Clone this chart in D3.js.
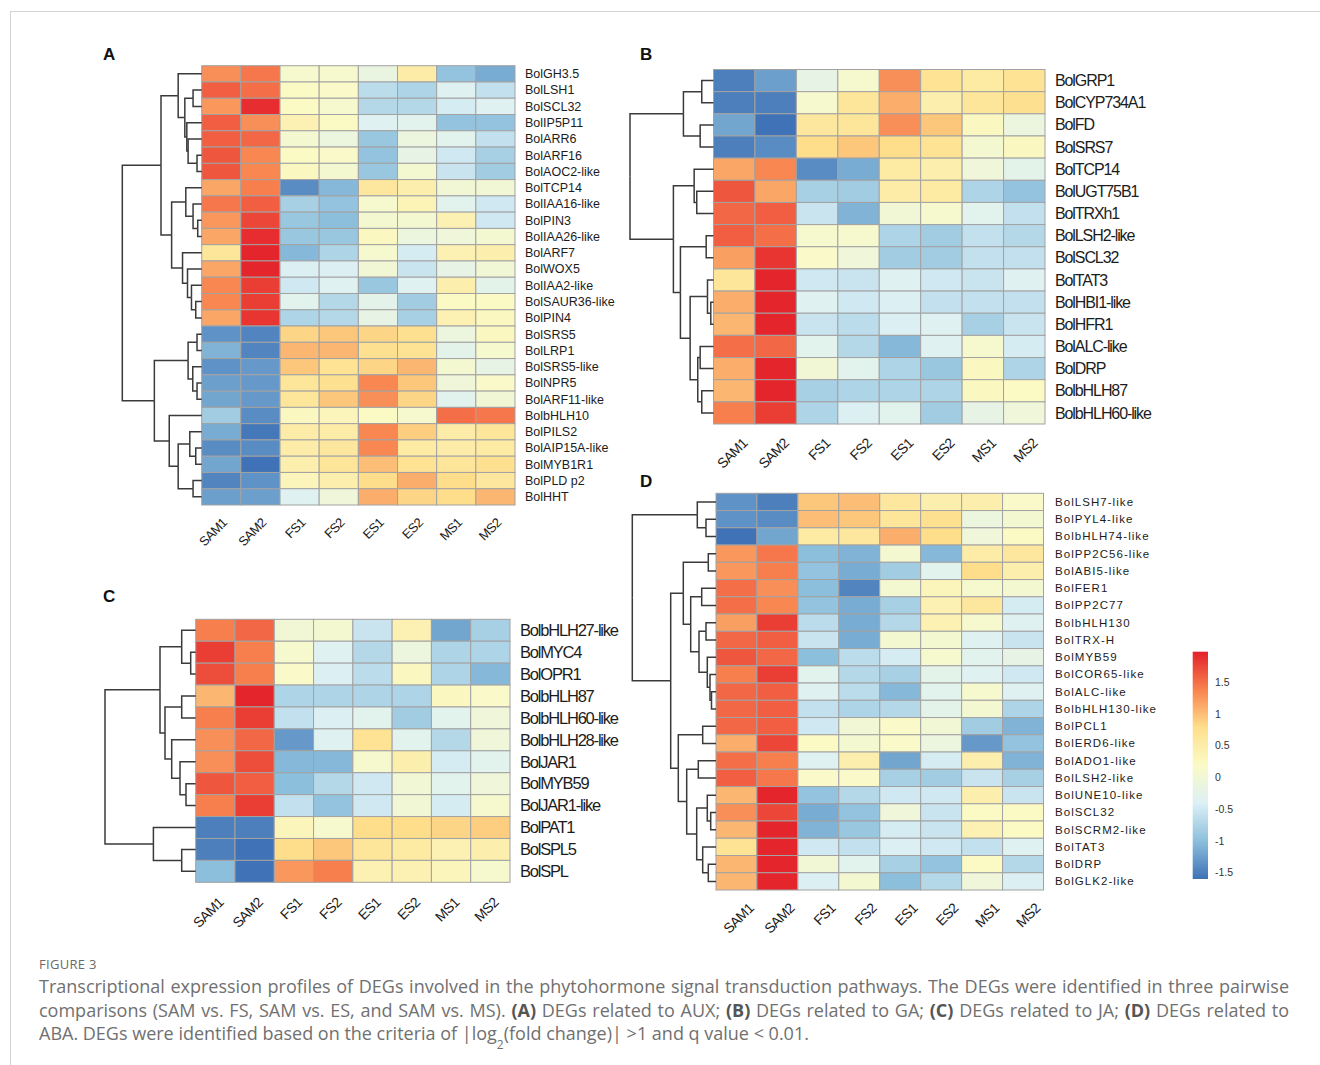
<!DOCTYPE html>
<html>
<head>
<meta charset="utf-8">
<script src="https://cdn.jsdelivr.net/npm/d3@7"></script>
<style>
  body { margin: 0; background: #fff; }
  svg { display: block; }
</style>
</head>
<body>
<svg id="fig" width="1320" height="1065"></svg>
<script>
// sample columns, shared by all four heatmaps
const samples = ["SAM1", "SAM2", "FS1", "FS2", "ES1", "ES2", "MS1", "MS2"];

// ---- A: AUX ----
const genesA = ["BolGH3.5", "BolLSH1", "BolSCL32", "BolIP5P11", "BolARR6", "BolARF16", "BolAOC2-like",
  "BolTCP14", "BolIAA16-like", "BolPIN3", "BolIAA26-like", "BolARF7", "BolWOX5", "BolIAA2-like",
  "BolSAUR36-like", "BolPIN4", "BolSRS5", "BolLRP1", "BolSRS5-like", "BolNPR5", "BolARF11-like",
  "BolbHLH10", "BolPILS2", "BolAIP15A-like", "BolMYB1R1", "BolPLD p2", "BolHHT"];
const valuesA = [
  [1.3, 1.45, 0.1, 0.1, -0.15, 0.5, -0.95, -1.15],
  [1.6, 1.5, 0.2, 0.15, -0.65, -0.75, -0.35, -0.6],
  [1.25, 1.9, 0.2, 0.1, -0.7, -0.7, -0.45, -0.35],
  [1.6, 1.3, 0.4, 0.2, -0.35, -0.3, -0.95, -0.95],
  [1.6, 1.55, 0.05, -0.1, -0.9, -0.1, -0.3, -0.6],
  [1.65, 1.35, 0.2, 0.15, -0.95, -0.2, -0.5, -0.8],
  [1.65, 1.35, 0.25, 0.05, -0.9, 0.05, -0.55, -0.85],
  [1.15, 1.4, -1.4, -1.05, 0.6, 0.45, 0.0, 0.0],
  [1.45, 1.6, -0.8, -0.95, 0.1, 0.35, -0.3, -0.5],
  [1.25, 1.75, -0.9, -1.0, 0.05, 0.05, 0.4, -0.5],
  [1.15, 1.9, -0.9, -0.9, 0.25, -0.1, -0.05, 0.05],
  [0.65, 1.95, -1.05, -0.75, 0.1, -0.45, 0.4, 0.45],
  [1.15, 1.95, -0.4, -0.4, 0.0, -0.55, -0.2, 0.0],
  [1.35, 1.8, -0.5, -0.35, -0.9, -0.35, 0.45, -0.25],
  [1.35, 1.8, -0.3, -0.7, -0.25, -0.85, 0.2, 0.2],
  [1.15, 1.85, -0.75, -0.7, -0.2, -0.8, 0.4, 0.25],
  [-1.35, -1.45, 0.85, 0.95, 0.85, 0.75, -0.1, 0.25],
  [-1.1, -1.45, 1.05, 1.05, 0.75, 0.7, -0.25, 0.1],
  [-1.35, -1.3, 0.95, 0.7, 0.85, 1.05, 0.05, -0.2],
  [-1.25, -1.3, 0.65, 0.75, 1.35, 0.95, -0.05, 0.15],
  [-1.2, -1.3, 0.65, 0.95, 1.3, 0.85, -0.3, 0.0],
  [-0.85, -1.4, 0.25, 0.3, 0.2, 0.1, 1.5, 1.45],
  [-1.15, -1.55, 0.5, 0.5, 1.35, 0.9, 0.5, 0.65],
  [-1.4, -1.4, 0.5, 0.6, 1.35, 0.55, 0.5, 0.55],
  [-1.2, -1.6, 0.45, 0.65, 1.0, 0.7, 0.65, 0.75],
  [-1.45, -1.35, 0.3, 0.45, 0.8, 1.1, 0.8, 0.6],
  [-1.25, -1.25, -0.35, -0.05, 1.1, 0.85, 0.8, 1.05]
];
// row dendrogram: [merge height, left, right], leaves are row indices
const treeA = [80,
  [41,
    [23.7, 0, [17, [8.7, 1, 2], [15, 3, [13.7, 4, [4.7, 5, 6]]]]],
    [30.3, [16, 7, [8.7, 8, [4, 9, 10]]], [19.3, 11, [14.3, 12, [10.3, 13, [6, 14, 15]]]]]],
  [47.7,
    [13.7, [4.7, 16, 17], [9, 18, [4.7, 19, 20]]],
    [32.7, 21, [23.7, [12, 22, [6, 23, 24]], [8.7, 25, 26]]]]];

// ---- B: GA ----
const genesB = ["BolGRP1", "BolCYP734A1", "BolFD", "BolSRS7", "BolTCP14", "BolUGT75B1", "BolTRXh1",
  "BolLSH2-like", "BolSCL32", "BolTAT3", "BolHBI1-like", "BolHFR1", "BolALC-like", "BolDRP",
  "BolbHLH87", "BolbHLH60-like"];
const valuesB = [
  [-1.5, -1.25, -0.2, 0.1, 1.3, 0.7, 0.55, 0.7],
  [-1.5, -1.5, 0.1, 0.65, 1.1, 0.45, 0.65, 0.75],
  [-1.2, -1.6, 0.6, 0.65, 1.3, 0.95, 0.25, -0.1],
  [-1.5, -1.4, 0.8, 0.95, 0.8, 0.7, 0.05, 0.25],
  [1.15, 1.35, -1.4, -1.15, 0.55, 0.45, -0.05, -0.25],
  [1.65, 1.15, -0.8, -0.85, 0.5, 0.55, -0.75, -0.95],
  [1.55, 1.6, -0.55, -1.1, 0.0, 0.1, -0.3, -0.6],
  [1.6, 1.5, 0.1, 0.1, -0.75, -0.85, -0.6, -0.7],
  [1.2, 1.85, 0.15, -0.05, -0.85, -0.85, -0.6, -0.6],
  [0.65, 1.95, -0.5, -0.55, -0.35, -0.5, -0.55, -0.35],
  [1.1, 1.95, -0.35, -0.5, -0.4, -0.6, -0.6, -0.6],
  [1.05, 1.95, -0.55, -0.65, -0.4, -0.35, -0.8, -0.55],
  [1.5, 1.55, -0.3, -0.7, -1.05, -0.35, 0.1, -0.45],
  [1.1, 1.95, 0.0, -0.3, -0.75, -0.9, 0.25, -0.75],
  [1.05, 1.95, -0.8, -0.75, -0.75, -0.75, 0.25, 0.2],
  [1.4, 1.8, -0.75, -0.4, -0.3, -0.85, -0.2, -0.05]
];
const treeB = [83.3,
  [30, [11.7, 0, 1], [13.3, 2, 3]],
  [40,
    [19.3, 4, [16.7, 5, 6]],
    [33, [7.3, 7, 8], [23.3, [6, 9, [2.7, 10, 11]], [15.7, [13.3, 12, 13], [11.7, 14, 15]]]]]];

// ---- C: JA ----
const genesC = ["BolbHLH27-like", "BolMYC4", "BolOPR1", "BolbHLH87", "BolbHLH60-like", "BolbHLH28-like",
  "BolJAR1", "BolMYB59", "BolJAR1-like", "BolPAT1", "BolSPL5", "BolSPL"];
const valuesC = [
  [1.4, 1.55, 0.0, 0.05, -0.55, 0.4, -1.2, -0.8],
  [1.8, 1.4, 0.1, -0.35, -0.7, -0.1, -0.75, -0.75],
  [1.7, 1.4, 0.15, -0.4, -0.65, 0.25, -0.75, -1.05],
  [1.05, 1.95, -0.75, -0.75, -0.75, -0.75, 0.25, 0.15],
  [1.4, 1.8, -0.6, -0.4, -0.3, -0.85, -0.3, -0.05],
  [1.3, 1.55, -1.3, -0.35, 0.7, -0.3, -0.7, -0.05],
  [1.3, 1.7, -1.05, -1.05, 0.1, 0.45, -0.45, -0.3],
  [1.65, 1.6, -1.0, -0.7, -0.5, 0.0, -0.3, -0.05],
  [1.4, 1.8, -0.6, -0.95, -0.5, 0.0, -0.45, 0.1],
  [-1.5, -1.5, 0.3, 0.1, 0.8, 0.8, 0.85, 0.9],
  [-1.5, -1.6, 0.8, 0.95, 0.65, 0.55, 0.4, 0.45],
  [-1.0, -1.6, 1.25, 1.4, 0.4, 0.4, 0.3, 0.1]
];
const treeC = [90.7,
  [35.7, [14, 0, [5, 1, 2]], [30.7, [14, 3, 4], [24, 5, [15.7, 6, [9.7, 7, 8]]]]],
  [42.3, 9, [14, 10, 11]]];

// ---- D: ABA ----
const genesD = ["BolLSH7-like", "BolPYL4-like", "BolbHLH74-like", "BolPP2C56-like", "BolABI5-like",
  "BolFER1", "BolPP2C77", "BolbHLH130", "BolTRX-H", "BolMYB59", "BolCOR65-like", "BolALC-like",
  "BolbHLH130-like", "BolPCL1", "BolERD6-like", "BolADO1-like", "BolLSH2-like", "BolUNE10-like",
  "BolSCL32", "BolSCRM2-like", "BolTAT3", "BolDRP", "BolGLK2-like"];
const valuesD = [
  [-1.35, -1.5, 0.95, 1.0, 0.6, 0.45, 0.45, 0.15],
  [-1.35, -1.4, 1.0, 0.95, 0.65, 0.75, -0.1, 0.05],
  [-1.6, -1.2, 0.55, 0.6, 1.1, 0.8, -0.05, 0.2],
  [1.25, 1.45, -1.0, -1.1, 0.05, -1.05, 0.5, 0.6],
  [1.25, 1.4, -0.95, -1.15, -0.85, -0.3, 0.8, 0.45],
  [1.5, 1.3, -1.0, -1.45, 0.05, 0.3, 0.1, 0.05],
  [1.5, 1.35, -0.95, -1.15, -0.8, 0.4, 0.6, -0.45],
  [1.2, 1.8, -0.65, -1.15, -0.7, 0.4, 0.1, -0.35],
  [1.55, 1.6, -0.55, -1.15, 0.05, 0.05, -0.35, -0.55],
  [1.65, 1.55, -1.0, -0.65, -0.45, 0.1, -0.3, -0.2],
  [1.4, 1.8, -0.3, -0.7, -0.8, -0.25, -0.35, -0.5],
  [1.55, 1.6, -0.35, -0.65, -1.05, -0.3, 0.1, -0.35],
  [1.55, 1.6, -0.6, -0.75, -0.7, -0.25, 0.05, -0.75],
  [1.55, 1.6, -0.5, 0.0, 0.15, 0.0, -0.85, -1.1],
  [1.1, 1.75, 0.2, 0.05, 0.15, -0.1, -1.3, -0.95],
  [1.5, 1.4, -0.35, 0.45, -1.2, -0.45, 0.45, -1.1],
  [1.6, 1.45, 0.15, 0.15, -0.8, -0.85, -0.55, -0.8],
  [1.05, 1.95, -0.95, -0.7, -0.5, -0.5, 0.45, -0.55],
  [1.3, 1.75, -1.15, -0.95, -0.05, -0.55, 0.2, 0.2],
  [1.05, 1.95, -1.1, -0.9, -0.45, -0.55, 0.4, 0.2],
  [0.7, 1.95, -0.5, -0.6, -0.4, -0.5, -0.6, -0.35],
  [1.05, 1.95, 0.0, -0.3, -0.8, -0.95, 0.2, -0.7],
  [1.05, 1.95, -0.4, 0.05, -1.0, -0.7, -0.05, -0.4]
];
const treeD = [83.7,
  [18.7, 0, [10, 1, 2]],
  [45.3,
    [32.7, [7.7, 3, 4], [25.3, [14.3, 5, 6], [17, [10, 7, 8], [8.7, 9, [6, 10, [4.5, 11, 12]]]]]],
    [37.7, [13.3, 13, 14], [29.3, [17.7, 15, 16], [19.3, [8.7, 17, [5.3, 18, 19]], [13.3, 20, [7.7, 21, 22]]]]]]];

// colour key
const valueRange = [-1.6, 1.98];
const legendTicks = [-1.5, -1, -0.5, 0, 0.5, 1, 1.5];
const palette = ["#3f72b6", "#8cbfdc", "#dcf0f5", "#fbfac6", "#fedf8c", "#f8824f", "#e4202a"];

const svg = d3.select("#fig");
const FONT = "'Liberation Sans', Arial, sans-serif";

const color = d3.scaleLinear()
  .domain(d3.quantize(d3.interpolate(valueRange[0], valueRange[1]), palette.length))
  .range(palette)
  .clamp(true);

// page frame lines
svg.append("line").attr("x1", 10).attr("x2", 1320).attr("y1", 11.5).attr("y2", 11.5)
  .attr("stroke", "#d4d4d4").attr("stroke-width", 1);
svg.append("line").attr("x1", 10.5).attr("x2", 10.5).attr("y1", 11).attr("y2", 1065)
  .attr("stroke", "#d4d4d4").attr("stroke-width", 1);

function heatmap(o) {
  const g = svg.append("g");
  const x = d3.scaleBand().domain(samples).range([o.left, o.right]);
  const y = d3.scaleBand().domain(o.genes).range([o.top, o.bottom]);

  const cells = [];
  o.values.forEach((row, i) => row.forEach((v, j) => cells.push({ gene: o.genes[i], s: samples[j], v: v })));

  g.selectAll("rect.cell").data(cells).join("rect")
    .attr("class", "cell")
    .attr("x", d => x(d.s))
    .attr("y", d => y(d.gene))
    .attr("width", x.bandwidth())
    .attr("height", y.bandwidth())
    .attr("fill", d => color(d.v))
    .attr("stroke", "#a2a2a2")
    .attr("stroke-width", 1);

  g.selectAll("text.row").data(o.genes).join("text")
    .attr("class", "row")
    .attr("x", o.labelX)
    .attr("y", d => y(d) + y.bandwidth() / 2)
    .attr("dy", "0.35em")
    .attr("font-family", FONT)
    .attr("font-size", o.labelSize)
    .attr("letter-spacing", o.labelSpacing)
    .attr("fill", "#1c1c1c")
    .text(d => d);

  g.selectAll("text.col").data(samples).join("text")
    .attr("class", "col")
    .attr("transform", d => `translate(${x(d) + x.bandwidth() / 2 + o.colDx},${o.bottom + o.colGap}) rotate(-45)`)
    .attr("text-anchor", "end")
    .attr("dy", "0.71em")
    .attr("font-family", FONT)
    .attr("font-size", o.colSize)
    .attr("letter-spacing", o.colSpacing)
    .attr("fill", "#1c1c1c")
    .text(d => d);

  // dendrogram
  const root = d3.hierarchy(o.tree, d => Array.isArray(d) ? d.slice(1) : null);
  const h = d3.scaleLinear().domain([0, o.tree[0]]).range([o.left, o.rootX]);
  root.eachAfter(n => {
    if (n.children) {
      n.py = d3.mean(n.children, c => c.py);
      n.px = h(n.data[0]);
    } else {
      n.py = y(o.genes[n.data]) + y.bandwidth() / 2;
      n.px = o.left;
    }
  });
  g.selectAll("path.link").data(root.links()).join("path")
    .attr("class", "link")
    .attr("d", l => `M${l.target.px},${l.target.py}H${l.source.px}V${l.source.py}`)
    .attr("fill", "none")
    .attr("stroke", "#3a3a3a")
    .attr("stroke-width", 1.5);

  svg.append("text")
    .attr("x", o.letterX).attr("y", o.letterY)
    .attr("font-family", FONT).attr("font-weight", "bold").attr("font-size", 17)
    .attr("fill", "#111")
    .text(o.letter);
}

heatmap({ letter: "A", letterX: 103, letterY: 60, genes: genesA, values: valuesA, tree: treeA,
  left: 201.7, right: 515, top: 65.7, bottom: 505, rootX: 122.3,
  labelX: 525, labelSize: 12.5, labelSpacing: 0, colSize: 13, colSpacing: -0.6, colDx: 0, colGap: 12 });

heatmap({ letter: "B", letterX: 640, letterY: 60, genes: genesB, values: valuesB, tree: treeB,
  left: 713.5, right: 1045, top: 69.5, bottom: 424, rootX: 630,
  labelX: 1055, labelSize: 16, labelSpacing: -1.1, colSize: 14, colSpacing: -0.6, colDx: 7, colGap: 13 });

heatmap({ letter: "C", letterX: 103, letterY: 602, genes: genesC, values: valuesC, tree: treeC,
  left: 195.7, right: 510, top: 619.3, bottom: 882.3, rootX: 105,
  labelX: 520, labelSize: 16.5, labelSpacing: -1.2, colSize: 14, colSpacing: -0.6, colDx: 2, colGap: 14 });

heatmap({ letter: "D", letterX: 640, letterY: 487, genes: genesD, values: valuesD, tree: treeD,
  left: 716, right: 1043.5, top: 493.3, bottom: 890, rootX: 632.3,
  labelX: 1055, labelSize: 11.5, labelSpacing: 1.05, colSize: 14, colSpacing: -0.6, colDx: 11, colGap: 12 });

// colour key (drawn next to D)
const keyY = d3.scaleLinear().domain(valueRange).range([879, 651.7]);
const grad = svg.append("defs").append("linearGradient")
  .attr("id", "keygrad").attr("x1", 0).attr("x2", 0).attr("y1", 1).attr("y2", 0);
grad.selectAll("stop").data(color.domain()).join("stop")
  .attr("offset", d => (d - valueRange[0]) / (valueRange[1] - valueRange[0]))
  .attr("stop-color", d => color(d));
svg.append("rect")
  .attr("x", 1192.7).attr("y", keyY(valueRange[1]))
  .attr("width", 15.3).attr("height", keyY(valueRange[0]) - keyY(valueRange[1]))
  .attr("fill", "url(#keygrad)");
svg.selectAll("text.key").data(legendTicks).join("text")
  .attr("class", "key")
  .attr("x", 1215)
  .attr("y", d => keyY(d))
  .attr("dy", "0.35em")
  .attr("font-family", FONT)
  .attr("font-size", 10.5)
  .attr("fill", "#333")
  .text(d => String(d));

// caption
const capFont = "'Open Sans', 'Noto Sans', sans-serif";
svg.append("text")
  .attr("x", 39).attr("y", 969)
  .attr("font-family", capFont).attr("font-size", 13).attr("letter-spacing", 0.3)
  .attr("fill", "#6a6a6a")
  .text("FIGURE 3");

const capLines = [
  [["Transcriptional expression profiles of DEGs involved in the phytohormone signal transduction pathways. The DEGs were identified in three pairwise", false]],
  [["comparisons (SAM vs. FS, SAM vs. ES, and SAM vs. MS). ", false], ["(A)", true], [" DEGs related to AUX; ", false],
   ["(B)", true], [" DEGs related to GA; ", false], ["(C)", true], [" DEGs related to JA; ", false], ["(D)", true], [" DEGs related to", false]],
  [["ABA. DEGs were identified based on the criteria of |log", false], ["2", "sub"], ["(fold change)| >1 and q value < 0.01.", false]]
];
capLines.forEach((parts, i) => {
  const t = svg.append("text")
    .attr("x", 39).attr("y", 993 + i * 23.5)
    .attr("font-family", capFont).attr("font-size", 18)
    .attr("fill", "#707070");
  parts.forEach(p => {
    const s = t.append("tspan").text(p[0]);
    if (p[1] === true) s.attr("font-weight", "bold").attr("fill", "#555");
    if (p[1] === "sub") s.attr("font-size", 12).attr("baseline-shift", "sub");
  });
  // justify the first two lines to the text column width
  if (i < 2) {
    const w = t.node().getComputedTextLength();
    const spaces = parts.map(p => p[0]).join("").split(" ").length - 1;
    t.attr("word-spacing", Math.max(0, (1289 - 39 - w) / spaces));
  }
});
</script>
</body>
</html>
